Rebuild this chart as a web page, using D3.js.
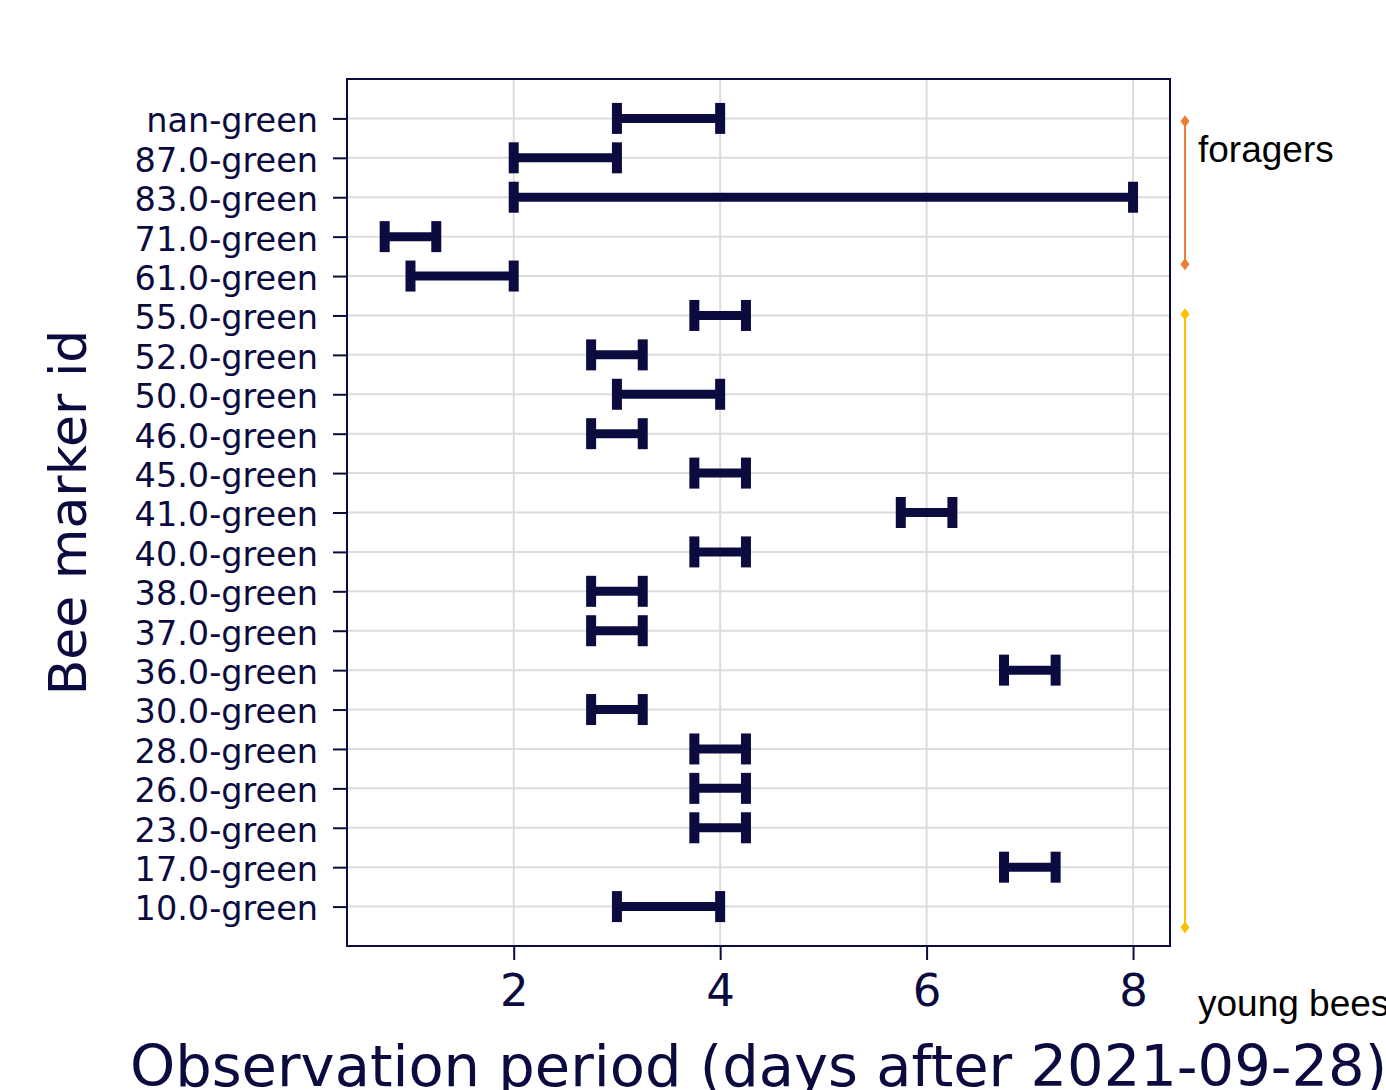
<!DOCTYPE html>
<html>
<head>
<meta charset="utf-8">
<script src="https://cdn.jsdelivr.net/npm/d3@7"></script>
<style>
  html, body { margin: 0; padding: 0; background: #fff; overflow: hidden; }
  svg { display: block; }
</style>
</head>
<body>
<svg id="chart" width="1386" height="1090"></svg>
<script>
// ---- data ----
const beeIds = ["nan-green","87.0-green","83.0-green","71.0-green","61.0-green","55.0-green",
  "52.0-green","50.0-green","46.0-green","45.0-green","41.0-green","40.0-green","38.0-green",
  "37.0-green","36.0-green","30.0-green","28.0-green","26.0-green","23.0-green","17.0-green","10.0-green"];
const periodStart = [3, 2, 2, 0.75, 1, 3.75, 2.75, 3, 2.75, 3.75, 5.75, 3.75, 2.75, 2.75, 6.75, 2.75, 3.75, 3.75, 3.75, 6.75, 3];
const periodEnd   = [4, 3, 8, 1.25, 2, 4.25, 3.25, 4, 3.25, 4.25, 6.25, 4.25, 3.25, 3.25, 7.25, 3.25, 4.25, 4.25, 4.25, 7.25, 4];
const xTicks = [2, 4, 6, 8];
const groupLabels = ["foragers", "young bees"];
const groupFrom = [0.07, 4.97];   // in row-index units
const groupTo   = [3.70, 20.53];
const groupColors = ["#ED7D31", "#FFC000"];
const xTitle = "Observation period (days after 2021-09-28)";
const yTitle = "Bee marker id";

// ---- layout ----
const navy = "#0b0b40";
const grid = "#dcdcdc";
const L = 347, R = 1170, T = 79, B = 946;
const svg = d3.select("#chart");

const x = d3.scaleLinear().domain([0.385, 8.358]).range([L, R]);
const y = d3.scalePoint().domain(beeIds).range([T, B]).padding(1);
const yIdx = d3.scaleLinear().domain([0, beeIds.length - 1]).range([y(beeIds[0]), y(beeIds[beeIds.length - 1])]);

// gridlines
svg.append("g").selectAll("line").data(xTicks).join("line")
  .attr("x1", d => x(d)).attr("x2", d => x(d)).attr("y1", T).attr("y2", B)
  .attr("stroke", grid).attr("stroke-width", 2);
svg.append("g").selectAll("line").data(beeIds).join("line")
  .attr("x1", L).attr("x2", R).attr("y1", d => y(d)).attr("y2", d => y(d))
  .attr("stroke", grid).attr("stroke-width", 2);

// axes
const xAxis = svg.append("g").attr("transform", `translate(0,${B})`)
  .call(d3.axisBottom(x).tickValues(xTicks).tickSize(14).tickPadding(14).tickFormat(d3.format("d")));
xAxis.select(".domain").remove();
xAxis.selectAll(".tick line").attr("stroke", navy).attr("stroke-width", 2);
xAxis.selectAll(".tick text").attr("fill", navy)
  .style("font-family", "DejaVu Sans").style("font-size", "45px");

const yAxis = svg.append("g").attr("transform", `translate(${L},0)`)
  .call(d3.axisLeft(y).tickSize(14).tickPadding(15));
yAxis.select(".domain").remove();
yAxis.selectAll(".tick line").attr("stroke", navy).attr("stroke-width", 2);
yAxis.selectAll(".tick text").attr("fill", navy).attr("dy", "0.40em")
  .style("font-family", "DejaVu Sans").style("font-size", "33.5px");

// frame
svg.append("rect").attr("x", L).attr("y", T).attr("width", R - L).attr("height", B - T)
  .attr("fill", "none").attr("stroke", navy).attr("stroke-width", 2);

// bars
const rows = beeIds.map((id, i) => ({ id, s: periodStart[i], e: periodEnd[i] }));
const gBars = svg.append("g");
gBars.selectAll("line").data(rows).join("line")
  .attr("x1", d => x(d.s)).attr("x2", d => x(d.e))
  .attr("y1", d => y(d.id)).attr("y2", d => y(d.id))
  .attr("stroke", navy).attr("stroke-width", 9);
const caps = rows.flatMap(d => [{ id: d.id, v: d.s }, { id: d.id, v: d.e }]);
gBars.selectAll("rect").data(caps).join("rect")
  .attr("x", d => x(d.v) - 5).attr("y", d => y(d.id) - 15.5)
  .attr("width", 10).attr("height", 31).attr("fill", navy);

// axis titles
svg.append("text").attr("x", (L + R) / 2).attr("y", 1086).attr("text-anchor", "middle")
  .attr("fill", navy).style("font-family", "DejaVu Sans").style("font-size", "57.5px").text(xTitle);
svg.append("text").attr("transform", `translate(86,${(T + B) / 2}) rotate(-90)`)
  .attr("text-anchor", "middle").attr("fill", navy)
  .style("font-family", "DejaVu Sans").style("font-size", "52px").text(yTitle);

// group annotations
const ax = 1185;
const groups = groupLabels.map((lab, i) => ({ lab, from: groupFrom[i], to: groupTo[i], c: groupColors[i] }));
const gA = svg.append("g");
groups.forEach(g => {
  gA.append("line").attr("x1", ax).attr("x2", ax)
    .attr("y1", yIdx(g.from)).attr("y2", yIdx(g.to)).attr("stroke", g.c).attr("stroke-width", 2);
  [g.from, g.to].forEach(v => {
    gA.append("path").attr("transform", `translate(${ax},${yIdx(v)})`)
      .attr("d", "M0,-6 L4.5,0 L0,6 L-4.5,0 Z").attr("fill", g.c);
  });
});
svg.append("text").attr("x", 1198).attr("y", 162).attr("fill", "#000")
  .style("font-family", "Liberation Sans, Arial, sans-serif").style("font-size", "37px").text(groupLabels[0]);
svg.append("text").attr("x", 1198).attr("y", 1016).attr("fill", "#000")
  .style("font-family", "Liberation Sans, Arial, sans-serif").style("font-size", "37px").text(groupLabels[1]);
</script>
</body>
</html>
